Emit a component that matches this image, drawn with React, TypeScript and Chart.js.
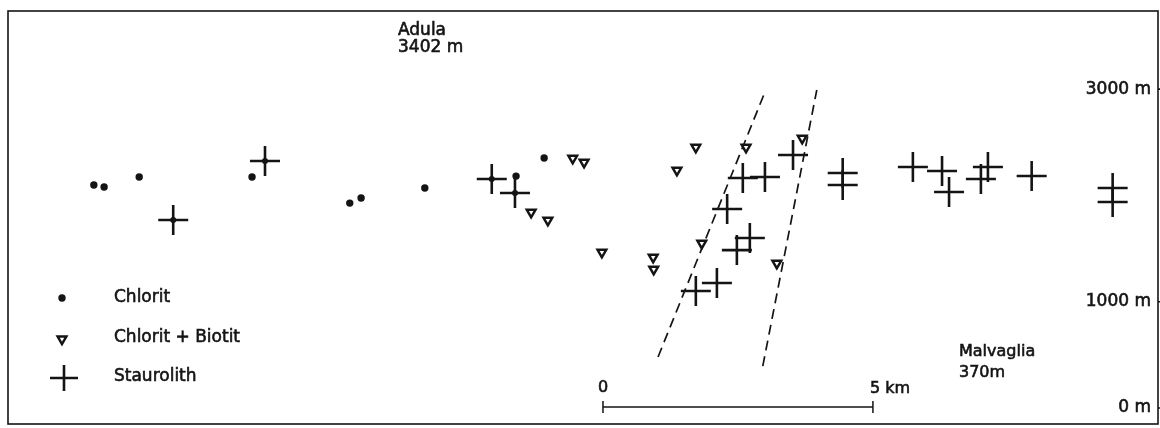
import React, { useEffect, useRef } from 'react';
import { Chart, registerables } from 'chart.js';

Chart.register(...registerables);

// x: horizontal distance in km (0 = start of the scale bar), y: elevation in m
const chloritX = [-9.43, -9.24, -8.59, -6.5, -4.69, -4.48, -3.3, -1.61, -1.09];
const chloritY = [2098, 2079, 2173, 2173, 1928, 1976, 2070, 2182, 2352];

// small chlorite dots sitting in the centre of staurolite crosses
const chloritCoreX = [-7.96, -6.26, -2.06, -1.63];
const chloritCoreY = [1769, 2324, 2154, 2023];

const biotitX = [-0.56, -0.35, -1.33, -1.02, -0.02, 0.93, 0.94, 1.37, 1.72, 2.65, 1.83, 3.22, 3.69];
const biotitY = [2349, 2312, 1841, 1766, 1465, 1418, 1305, 2236, 2453, 2453, 1550, 1361, 2537];

const staurolithX = [-7.96, -6.26, -2.06, -1.63, 2.59, 3.0, 3.52, 2.3, 2.72, 2.48, 1.72, 2.11, 4.44, 4.44, 5.74, 6.28, 6.41, 7.0, 7.13, 7.94, 9.44, 9.44];
const staurolithY = [1769, 2324, 2154, 2023, 2164, 2173, 2380, 1872, 1599, 1486, 1101, 1176, 2211, 2098, 2267, 2230, 2032, 2154, 2267, 2183, 2070, 1938];

const faultLeftX = [1.02, 3.0];
const faultLeftY = [480, 2973];
const faultRightX = [2.96, 3.96];
const faultRightY = [395, 2992];

const yTickValues = [0, 1000, 3000];
const yTickLabels = ['0 m', '1000 m', '3000 m'];

const scaleBarKm = [0, 5];
const scaleBarLabels = ['0', '5 km'];

const legendLabels = ['Chlorit', 'Chlorit + Biotit', 'Staurolith'];

const topPlace = ['Adula', '3402 m'];
const bottomPlace = ['Malvaglia', '370m'];

const INK = '#141414';
const FONT = '"DejaVu Sans", sans-serif';

const toPts = (xs: number[], ys: number[]) => xs.map((x, i) => ({ x, y: ys[i] }));

// text with a slightly heavier stroke, like the inked lettering of the original
const inkText = (ctx: CanvasRenderingContext2D, t: string, x: number, y: number) => {
  ctx.fillText(t, x, y);
  ctx.strokeText(t, x, y);
};

const overlayPlugin = {
  id: 'overlay',
  afterDraw(chart: any) {
    const { ctx, chartArea: a, scales } = chart;
    const xs = scales.x;
    const ys = scales.y;
    ctx.save();
    ctx.strokeStyle = INK;
    ctx.fillStyle = INK;

    // frame
    ctx.lineWidth = 1.6;
    ctx.strokeRect(a.left, a.top, a.right - a.left, a.bottom - a.top);

    // right-hand elevation ticks
    ctx.font = `17px ${FONT}`;
    ctx.textAlign = 'right';
    ctx.textBaseline = 'middle';
    yTickValues.forEach((v, i) => {
      const py = ys.getPixelForValue(v);
      ctx.lineWidth = 0.6;
      inkText(ctx, yTickLabels[i], a.right - 7, py);
      ctx.lineWidth = 1.6;
      ctx.beginPath();
      ctx.moveTo(a.right, py);
      ctx.lineTo(a.right + 3, py);
      ctx.stroke();
    });

    // scale bar
    const barY = ys.getPixelForValue(0) - 1;
    const bx0 = xs.getPixelForValue(scaleBarKm[0]);
    const bx1 = xs.getPixelForValue(scaleBarKm[1]);
    ctx.lineWidth = 1.5;
    ctx.beginPath();
    ctx.moveTo(bx0, barY);
    ctx.lineTo(bx1, barY);
    ctx.moveTo(bx0, barY - 6);
    ctx.lineTo(bx0, barY + 6);
    ctx.moveTo(bx1, barY - 6);
    ctx.lineTo(bx1, barY + 6);
    ctx.stroke();
    ctx.lineWidth = 0.6;
    ctx.font = `16px ${FONT}`;
    ctx.textAlign = 'center';
    inkText(ctx, scaleBarLabels[0], bx0, barY - 19);
    ctx.textAlign = 'left';
    inkText(ctx, scaleBarLabels[1], bx1 - 3, barY - 18);

    // place names
    ctx.font = `17px ${FONT}`;
    ctx.textAlign = 'left';
    inkText(ctx, topPlace[0], a.left + 390, a.top + 20);
    inkText(ctx, topPlace[1], a.left + 390, a.top + 37);
    ctx.font = `16px ${FONT}`;
    inkText(ctx, bottomPlace[0], a.left + 951, a.top + 341);
    inkText(ctx, bottomPlace[1], a.left + 951, a.top + 362);

    // legend
    const mx = a.left + 54;
    const tx = a.left + 106;
    const rows = [a.top + 287, a.top + 327, a.top + 366];
    ctx.font = `17px ${FONT}`;
    ctx.textAlign = 'left';
    legendLabels.forEach((t, i) => inkText(ctx, t, tx, rows[i]));
    // dot
    ctx.beginPath();
    ctx.arc(mx, rows[0], 3.7, 0, Math.PI * 2);
    ctx.fill();
    // inverted triangle
    const r = 5;
    const ty = rows[1] + 1;
    ctx.lineWidth = 2.5;
    ctx.fillStyle = '#fff';
    ctx.beginPath();
    ctx.moveTo(mx, ty + r);
    ctx.lineTo(mx - 0.866 * r, ty - 0.5 * r);
    ctx.lineTo(mx + 0.866 * r, ty - 0.5 * r);
    ctx.closePath();
    ctx.fill();
    ctx.stroke();
    // cross
    ctx.lineWidth = 2.6;
    const cx = mx + 2;
    const cy = rows[2] + 1;
    ctx.beginPath();
    ctx.moveTo(cx - 14, cy);
    ctx.lineTo(cx + 14, cy);
    ctx.moveTo(cx, cy - 13);
    ctx.lineTo(cx, cy + 13);
    ctx.stroke();

    ctx.restore();
  },
};

export default function App() {
  const canvasRef = useRef<HTMLCanvasElement | null>(null);

  useEffect(() => {
    if (!canvasRef.current) return;
    const chart = new Chart(canvasRef.current, {
      type: 'scatter',
      data: {
        datasets: [
          {
            label: 'Chlorit',
            data: toPts(chloritX, chloritY),
            pointStyle: 'circle',
            pointRadius: 3.7,
            pointBackgroundColor: INK,
            pointBorderColor: INK,
            pointBorderWidth: 0,
          },
          {
            label: 'Chlorit (Kern)',
            data: toPts(chloritCoreX, chloritCoreY),
            pointStyle: 'circle',
            pointRadius: 3,
            pointBackgroundColor: INK,
            pointBorderColor: INK,
            pointBorderWidth: 0,
          },
          {
            label: 'Chlorit + Biotit',
            data: toPts(biotitX, biotitY),
            pointStyle: 'triangle',
            pointRotation: 180,
            pointRadius: 5,
            pointBackgroundColor: '#ffffff',
            pointBorderColor: INK,
            pointBorderWidth: 2.5,
          },
          {
            label: 'Staurolith',
            data: toPts(staurolithX, staurolithY),
            pointStyle: 'cross',
            pointRadius: 15,
            pointBorderColor: INK,
            pointBorderWidth: 2.6,
          },
          {
            label: 'Grenze West',
            data: toPts(faultLeftX, faultLeftY),
            showLine: true,
            pointRadius: 0,
            borderColor: INK,
            borderWidth: 1.7,
            borderDash: [10, 6],
          },
          {
            label: 'Grenze Ost',
            data: toPts(faultRightX, faultRightY),
            showLine: true,
            pointRadius: 0,
            borderColor: INK,
            borderWidth: 1.7,
            borderDash: [10, 6],
          },
        ],
      },
      options: {
        animation: false,
        responsive: false,
        events: [],
        layout: { autoPadding: false, padding: { left: 8, top: 11, right: 2, bottom: 4 } },
        plugins: {
          legend: { display: false },
          tooltip: { enabled: false },
        },
        scales: {
          x: { type: 'linear', min: -11.02, max: 10.28, display: false },
          y: { type: 'linear', min: -150, max: 3735, display: false },
        },
      },
      plugins: [overlayPlugin],
    });
    return () => chart.destroy();
  }, []);

  return (
    <div style={{ position: 'absolute', left: 0, top: 0, width: 1160, height: 428, background: '#fff' }}>
      <canvas ref={canvasRef} width={1160} height={428} style={{ width: 1160, height: 428, display: 'block' }} />
    </div>
  );
}
